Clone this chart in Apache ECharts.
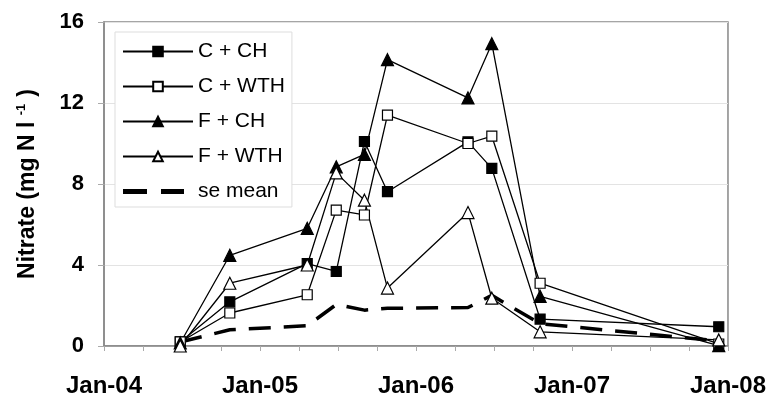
<!DOCTYPE html>
<html><head><meta charset="utf-8">
<script src="https://cdn.jsdelivr.net/npm/echarts@6/dist/echarts.min.js"></script>
<style>html,body{margin:0;padding:0;background:#fff}#c{width:769px;height:398px}</style>
</head><body><div id="c"></div>
<script>
var dates = ['2004-06-27','2004-10-22','2005-04-20','2005-06-27','2005-09-02','2005-10-26','2006-05-01','2006-06-26','2006-10-18','2007-12-10'];
var cCH  = [0.2, 2.18, 4.07, 3.68, 10.1, 7.62, 10.08, 8.77, 1.33, 0.95];
var cWTH = [0.2, 1.63, 2.53, 6.71, 6.47, 11.4, 10.0, 10.36, 3.1, 0.1];
var fCH  = [0.15, 4.48, 5.81, 8.85, 9.46, 14.14, 12.25, 14.93, 2.45, 0.02];
var fWTH = [0.0, 3.1, 4.0, 8.55, 7.2, 2.86, 6.59, 2.36, 0.7, 0.3];
var seMean = [0.2, 0.8, 1.0, 2.05, 1.77, 1.86, 1.9, 2.5, 1.1, 0.25];
var yTicks = [0, 4, 8, 12, 16];
var xLabels = ['Jan-04','Jan-05','Jan-06','Jan-07','Jan-08'];

function toMonths(s){
  var p = s.split('-').map(Number);
  var dim = new Date(p[0], p[1], 0).getDate();
  return (p[0]-2004)*12 + (p[1]-1) + (p[2]-1)/dim;
}
var xs = dates.map(toMonths);
function pts(arr){ return arr.map(function(v,i){ return [xs[i], v]; }); }

var font = 'Liberation Sans, Arial, sans-serif';
function mk(name, data, symbol, size, filled){
  return {
    name: name, type: 'line', data: pts(data), symbol: symbol, symbolSize: size,
    lineStyle: {color: '#000', width: 1.3},
    itemStyle: {color: filled ? '#000' : '#fff', borderColor: '#000', borderWidth: 1.2},
    emphasis: {disabled: true}, z: 3
  };
}
var dashIcon = 'path://M0,0h24v5h-24zM38,0h23v5h-23zM69.9,0h0.1v0.1h-0.1z';
var chart = echarts.init(document.getElementById('c'));
chart.setOption({
  animation: false,
  textStyle: {fontFamily: font},
  grid: {left: 104, right: 41, top: 22, bottom: 51, show: true, borderColor: '#888', borderWidth: 1.5},
  legend: {
    left: 115, top: 32, orient: 'vertical',
    itemWidth: 70, itemHeight: 12, itemGap: 14, itemTextGap: 5,
    padding: [9, 7, 5, 7],
    backgroundColor: '#fff', borderColor: '#ddd', borderWidth: 1,
    textStyle: {fontSize: 21, color: '#000', fontFamily: font},
    data: ['C + CH', 'C + WTH', 'F + CH', 'F + WTH',
      {name: 'se mean', icon: dashIcon, itemStyle: {color: '#000', borderWidth: 0}}]
  },
  xAxis: {
    type: 'value', min: 0, max: 48, interval: 3,
    axisLine: {show: true, lineStyle: {color: '#888', width: 1.5}},
    axisTick: {show: true, length: 5, lineStyle: {color: '#aaa'}},
    splitLine: {show: false},
    axisLabel: {
      margin: 28, fontSize: 24, fontWeight: 'bold', color: '#000', fontFamily: font,
      formatter: function(v){ return v % 12 === 0 ? xLabels[v/12] : ''; }
    }
  },
  yAxis: {
    type: 'value', min: yTicks[0], max: yTicks[yTicks.length-1], interval: 4,
    name: '{a|Nitrate (mg N l }{s|-1}{a|)}',
    nameLocation: 'middle', nameGap: 64, nameRotate: 90,
    nameTextStyle: {
      rich: {
        a: {fontSize: 23, fontWeight: 'bold', color: '#000', fontFamily: font},
        s: {fontSize: 13, fontWeight: 'bold', color: '#000', fontFamily: font, verticalAlign: 'top', padding: [0, 7, 12, 0]}
      }
    },
    axisLine: {show: true, lineStyle: {color: '#888', width: 1.5}},
    axisTick: {show: true, length: 6, lineStyle: {color: '#aaa'}},
    splitLine: {show: true, lineStyle: {color: '#e3e3e3', width: 1}},
    axisLabel: {margin: 20, fontSize: 22, fontWeight: 'bold', color: '#000', fontFamily: font}
  },
  series: [
    mk('C + CH', cCH, 'rect', 10, true),
    mk('C + WTH', cWTH, 'rect', 10, false),
    mk('F + CH', fCH, 'triangle', 12, true),
    mk('F + WTH', fWTH, 'triangle', 12, false),
    {
      name: 'se mean', type: 'line', data: pts(seMean), symbol: 'none',
      lineStyle: {color: '#000', width: 3.5, type: [22, 13]},
      itemStyle: {color: '#000'}, emphasis: {disabled: true}, z: 2
    }
  ]
});
</script></body></html>
